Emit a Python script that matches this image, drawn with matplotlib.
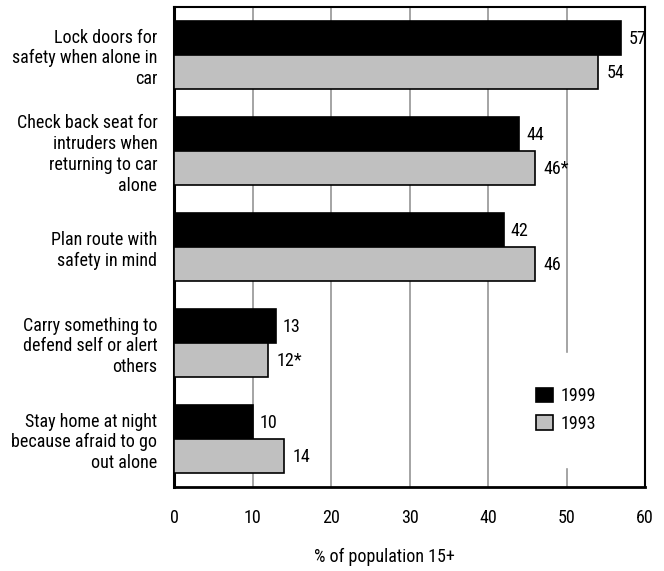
import os
import matplotlib
matplotlib.use("Agg")
import matplotlib.pyplot as plt
from matplotlib import font_manager
import numpy as np

# Prefer a narrow / condensed sans face for all text
preferred = ["LiberationSansNarrow-Regular", "RobotoCondensed-Regular",
             "DejaVuSansCondensed.", "NotoSans-Condensed.", "NotoSans-CondensedRegular",
             "OpenSans-CondensedRegular", "OpenSans_Condensed-Regular"]
chosen = None
for key in preferred:
    for f in font_manager.fontManager.ttflist:
        if key in os.path.basename(f.fname):
            chosen = f
            break
    if chosen:
        break
if chosen is not None:
    plt.rcParams["font.family"] = [chosen.name, "DejaVu Sans"]
    plt.rcParams["font.stretch"] = chosen.stretch
    FS = 13
else:
    plt.rcParams["font.family"] = ["Liberation Sans", "DejaVu Sans"]
    FS = 11

categories = [
    "Lock doors for\nsafety when alone in\ncar",
    "Check back seat for\nintruders when\nreturning to car\nalone",
    "Plan route with\nsafety in mind",
    "Carry something to\ndefend self or alert\nothers",
    "Stay home at night\nbecause afraid to go\nout alone",
]
values_1999 = [57, 44, 42, 13, 10]
values_1993 = [54, 46, 46, 12, 14]
labels_1999 = ["57", "44", "42", "13", "10"]
labels_1993 = ["54", "46*", "46", "12*", "14"]
xticks = [0, 10, 20, 30, 40, 50, 60]

fig = plt.figure(figsize=(6.64, 5.71), dpi=100)
ax = fig.add_axes([174 / 664, 1 - 487 / 571, (645 - 174) / 664, (487 - 7) / 571])

y = np.arange(len(categories))
h = 0.355
b1 = ax.barh(y - h / 2, values_1999, height=h, color="black", edgecolor="black",
             linewidth=1.2, label="1999", zorder=3)
b2 = ax.barh(y + h / 2, values_1993, height=h, color="#c0c0c0", edgecolor="black",
             linewidth=1.2, label="1993", zorder=3)

for rect, lab in zip(b1, labels_1999):
    ax.annotate(lab, (rect.get_width(), rect.get_y() + rect.get_height() / 2),
                xytext=(5, -1), textcoords="offset points", va="center", ha="left",
                fontsize=FS)
for rect, lab in zip(b2, labels_1993):
    ax.annotate(lab, (rect.get_width(), rect.get_y() + rect.get_height() / 2),
                xytext=(6, -1), textcoords="offset points", va="center", ha="left",
                fontsize=FS)

ax.set_xlim(0, 60)
ax.set_ylim(len(categories) - 0.5, -0.5)
ax.set_xticks(xticks)
ax.set_xticklabels([str(t) for t in xticks], fontsize=FS)
ax.set_yticks(y)
ax.set_yticklabels(categories, fontsize=FS, ha="right", linespacing=1.2)
ax.tick_params(axis="both", length=0)
ax.tick_params(axis="x", pad=16)
ax.tick_params(axis="y", pad=12)

ax.grid(axis="x", color="#8c8c8c", linewidth=1.1, zorder=0)
ax.set_axisbelow(True)
for side in ["top", "right", "bottom", "left"]:
    ax.spines[side].set_color("black")
    ax.spines[side].set_linewidth(1.5)
ax.spines["left"].set_linewidth(2.2)
ax.spines["bottom"].set_linewidth(2.0)

leg = ax.legend(loc="center", bbox_to_anchor=(0.833, 0.16), fontsize=FS,
                frameon=True, fancybox=False, edgecolor="white", facecolor="white",
                framealpha=1, handlelength=0.9, handleheight=0.9,
                handletextpad=0.45, labelspacing=0.55, borderpad=1.9)
leg.set_zorder(5)

fig.text(384 / 664, 1 - 557 / 571, "% of population 15+", ha="center", va="center",
         fontsize=FS)

fig.savefig("out.png", dpi=100)
